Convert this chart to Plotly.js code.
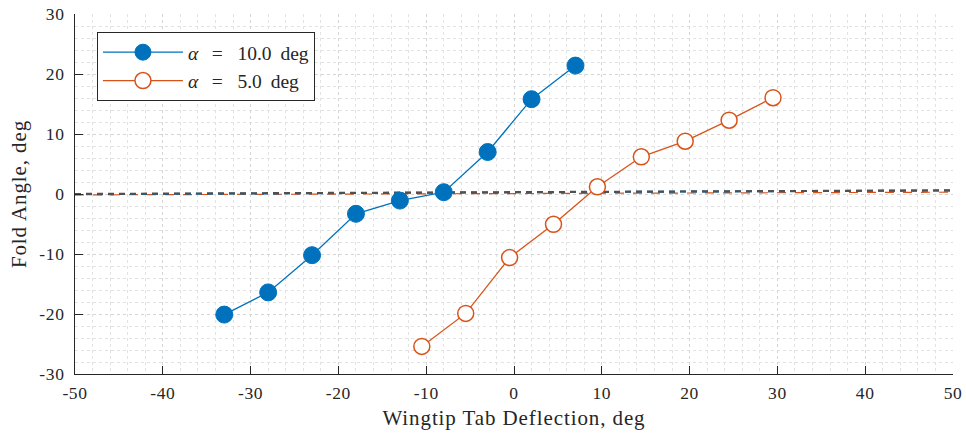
<!DOCTYPE html>
<html>
<head>
<meta charset="utf-8">
<script src="https://cdn.plot.ly/plotly-3.0.1.min.js"></script>
<style>
  html, body { margin: 0; padding: 0; background: #fff; }
  #chart { width: 966px; height: 437px; }
  /* slightly wider set for the serif titles and labels */
  #chart .xtitle, #chart .ytitle { letter-spacing: 0.9px; }
  #chart .xtick text, #chart .ytick text { letter-spacing: 0.6px; }
</style>
</head>
<body>
<div id="chart"></div>
<script>
// Fold angle vs wingtip tab deflection, two angles of attack
const tabA10 = [-33, -28, -23, -18, -13, -8, -3, 2, 7];
const foldA10 = [-20.1, -16.4, -10.2, -3.3, -1.1, 0.3, 7.0, 15.8, 21.4];

const tabA5 = [-10.5, -5.5, -0.5, 4.5, 9.5, 14.5, 19.5, 24.5, 29.5];
const foldA5 = [-25.4, -19.9, -10.6, -5.05, 1.2, 6.2, 8.8, 12.3, 16.05];

// Reference (zero-load) lines across the full range
const refX = [-50, 50];
const refA10 = [-0.05, 0.6];
const refA5 = [-0.15, 0.3];
const refMean = [0.0, 0.6];

const xTicks = [-50, -40, -30, -20, -10, 0, 10, 20, 30, 40, 50];
const xTickText = ['-50', '-40', '-30', '-20', '-10', '0', '10', '20', '30', '40', '50'];
const yTicks = [-30, -20, -10, 0, 10, 20, 30];
const yTickText = ['-30', '-20', '-10', '0', '10', '20', '30'];

const legendA10 = '<i>α</i>\u2002\u2009=\u2002 10.0\u2009 deg';
const legendA5 = '<i>α</i>\u2002\u2009=\u2002 5.0\u2009 deg';

const blue = '#0072BD';
const orange = '#D95319';
const ink = '#262626';
const serif = '"Liberation Serif", "DejaVu Serif", serif';

const traces = [
  { x: refX, y: refA5, mode: 'lines', showlegend: false, hoverinfo: 'skip',
    line: { color: orange, width: 1.2, dash: 'dash' } },
  { x: refX, y: refA10, mode: 'lines', showlegend: false, hoverinfo: 'skip',
    line: { color: blue, width: 2, dash: '6px,5px' } },
  { x: refX, y: refMean, mode: 'lines', showlegend: false, hoverinfo: 'skip',
    line: { color: '#505050', width: 2.2, dash: '6px,5px' } },
  { x: tabA10, y: foldA10, mode: 'lines+markers', name: legendA10,
    line: { color: blue, width: 1.3 },
    marker: { symbol: 'circle', size: 17, color: blue, line: { color: blue, width: 1 } } },
  { x: tabA5, y: foldA5, mode: 'lines+markers', name: legendA5,
    line: { color: orange, width: 1.3 },
    marker: { symbol: 'circle', size: 16, color: '#ffffff', line: { color: orange, width: 1.5 } } }
];

const gridCommon = {
  showgrid: true, gridcolor: '#d4d4d4', griddash: 'dot', gridwidth: 1,
  zeroline: false, showline: true, linecolor: ink, linewidth: 1,
  ticks: 'inside', ticklen: 8, tickcolor: ink, tickwidth: 1,
  tickfont: { family: serif, size: 17.5, color: ink },
  tickmode: 'array', mirror: false
};

const layout = {
  width: 966, height: 437,
  margin: { l: 75, r: 13, t: 14, b: 63 },
  paper_bgcolor: '#ffffff', plot_bgcolor: '#ffffff',
  font: { family: serif, color: ink },
  xaxis: Object.assign({}, gridCommon, {
    range: [-50, 50], tickvals: xTicks, ticktext: xTickText,
    minor: { dtick: 2, tick0: 0, showgrid: true, gridcolor: '#e2e2e2', griddash: 'dot', gridwidth: 1 },
    ticklabelstandoff: 3,
    title: { text: 'Wingtip Tab Deflection, deg', font: { family: serif, size: 21, color: ink }, standoff: 8 }
  }),
  yaxis: Object.assign({}, gridCommon, {
    range: [-30, 30], tickvals: yTicks, ticktext: yTickText,
    minor: { dtick: 2, tick0: 0, showgrid: true, gridcolor: '#e2e2e2', griddash: 'dot', gridwidth: 1 },
    ticklabelstandoff: 6,
    title: { text: 'Fold Angle, deg', font: { family: serif, size: 21, color: ink }, standoff: 8 }
  }),
  legend: {
    x: 0.025, y: 0.95, xanchor: 'left', yanchor: 'top',
    bgcolor: '#ffffff', bordercolor: ink, borderwidth: 1,
    font: { family: serif, size: 19.5, color: ink },
    itemwidth: 80, tracegroupgap: 0
  },
  showlegend: true
};

Plotly.newPlot('chart', traces, layout, { displayModeBar: false, staticPlot: true });
</script>
</body>
</html>
